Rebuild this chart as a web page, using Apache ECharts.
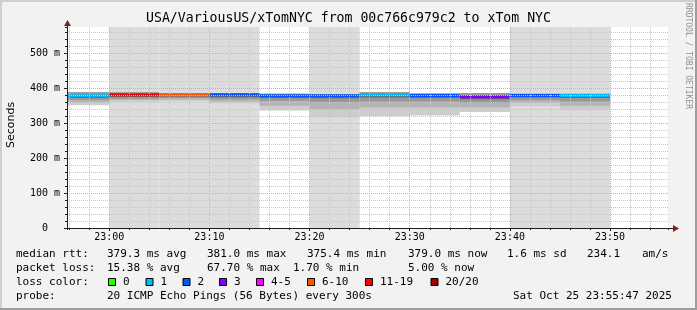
<!DOCTYPE html>
<html><head><meta charset="utf-8">
<script src="https://cdn.jsdelivr.net/npm/echarts@6/dist/echarts.min.js"></script>
<style>html,body{margin:0;padding:0;background:#f2f2f2;}#c{width:697px;height:310px;}</style>
</head><body><div id="c"></div>
<script>
// ---- data ----
const titleText = 'USA/VariousUS/xTomNYC from 00c766c979c2 to xTom NYC';
const windowStart = '22:55:47';
const windowEnd = '23:55:47';
const segStart = ['22:55','23:00','23:05','23:10','23:15','23:20','23:25','23:30','23:35','23:40','23:45'];
const stepMinutes = 5;
const medianRtt = [378, 381, 381, 381, 378, 378, 381, 379, 375.4, 379, 379];
const smokeTop  = [388, 388, 385, 386, 384, 383, 388, 385, 386, 384, 384];
const smokeLow0 = [372, 375, 376, 374, 372, 371, 373, 372, 368, 373, 372];
const smokeLow1 = [366, 370, 372, 368, 364, 360, 362, 362, 358, 366, 362];
const smokeLow2 = [360, 366, 367, 362, 350, 340, 345, 345, 345, 358, 350];
const smokeLow3 = [351, 361, 363, 357, 336, 317, 320, 322, 332, 349, 337];
const lossPings = [1, 13.5, 8, 2, 2, 2, 1, 2, 3, 2, 1];
const lossShade = [0, 1, 1, 1, 0, 1, 0, 0, 0, 1, 1];
const yMax = 575;
const lossLegend = ['0','1','2','3','4-5','6-10','11-19','20/20'];
const lossLegendMax = [0, 1, 2, 3, 5, 10, 19, 20];
const lossColors = ['#26ff00','#00b8ff','#0059ff','#7e00ff','#ff00ff','#ff5500','#ff0000','#a10000'];
const rttLabel = 'median rtt:';
const rttStats = ['379.3 ms avg','381.0 ms max','375.4 ms min','379.0 ms now','1.6 ms sd','234.1','am/s'];
const lossLabel = 'packet loss:';
const lossStats = ['15.38 % avg','67.70 % max','1.70 % min','5.00 % now'];
const colorLabel = 'loss color:';
const probeLabel = 'probe:';
const probeText = '20 ICMP Echo Pings (56 Bytes) every 300s';
const stampText = 'Sat Oct 25 23:55:47 2025';
const yAxisName = 'Seconds';
const watermark = 'RRDTOOL / TOBI OETIKER';

// ---- helpers ----
function toMin(s){ const p = s.split(':').map(Number); return p[0]*60 + p[1] + (p[2]||0)/60; }
function lossColor(n){ const c = Math.ceil(n); for (let i=0;i<lossLegendMax.length;i++){ if (c <= lossLegendMax[i]) return lossColors[i]; } return lossColors[lossColors.length-1]; }
const xMin = toMin(windowStart), xMax = toMin(windowEnd);
const rows = segStart.map((t,i)=>[toMin(t), toMin(t)+stepMinutes, medianRtt[i], smokeTop[i], smokeLow0[i], smokeLow1[i], smokeLow2[i], smokeLow3[i], lossPings[i], lossShade[i]]);

const MONO = "'DejaVu Sans Mono', monospace";
const minorGrid = {color:'#c6c6c6', width:1, type:[1,1]};
const majorGrid = {color:'#ef9f9f', width:1, type:[1,1]};

function renderItem(params, api){
  const cs = params.coordSys;
  const s = api.value(0), e = api.value(1);
  const x0 = Math.max(api.coord([s,0])[0], cs.x);
  const x1 = Math.min(api.coord([e,0])[0], cs.x + cs.width);
  const w = x1 - x0;
  if (w <= 0) return null;
  const Y = v => api.coord([s, v])[1];
  const ch = [];
  function band(lo, hi, color){
    const ya = Y(hi), yb = Y(lo);
    ch.push({type:'rect', shape:{x:x0, y:ya, width:w, height:yb-ya}, style:{fill:color}});
  }
  if (api.value(9)) ch.push({type:'rect', shape:{x:x0, y:cs.y, width:w, height:cs.height}, style:{fill:'#dcdcdc'}});
  band(api.value(7), api.value(3), '#cdcdcd');
  band(api.value(6), api.value(3), '#b3b3b3');
  band(api.value(5), api.value(3), '#979797');
  band(api.value(4), api.value(2), '#6a6a6a');
  const ym = Y(api.value(2));
  ch.push({type:'rect', shape:{x:x0, y:ym-1.5, width:w, height:3}, style:{fill:lossColor(api.value(8))}});
  return {type:'group', children:ch};
}

// ---- graphic (texts, frame) ----
const g = [];
const T = (x,y,text,opt) => g.push(Object.assign({type:'text', x, y, style:Object.assign({text, fill:'#000', font:'11px '+MONO, textVerticalAlign:'middle', textAlign:'left'}, (opt||{}).style||{})}, opt && opt.rotation!==undefined ? {rotation:opt.rotation} : {}, {z:20}));
// frame shading
g.push({type:'rect', shape:{x:0,y:0,width:697,height:2}, style:{fill:'#cfcfcf'}, z:1});
g.push({type:'rect', shape:{x:0,y:0,width:2,height:310}, style:{fill:'#cfcfcf'}, z:1});
g.push({type:'rect', shape:{x:0,y:308,width:697,height:2}, style:{fill:'#9e9e9e'}, z:1});
g.push({type:'rect', shape:{x:695,y:0,width:2,height:310}, style:{fill:'#9e9e9e'}, z:1});
// axis extensions and arrows
g.push({type:'line', shape:{x1:668, y1:228.5, x2:676, y2:228.5}, style:{stroke:'#1f1f1f', lineWidth:1}, z:20});
g.push({type:'line', shape:{x1:67.5, y1:27, x2:67.5, y2:22}, style:{stroke:'#1f1f1f', lineWidth:1}, z:20});
g.push({type:'polygon', shape:{points:[[673,225],[673,232],[679,228.5]]}, style:{fill:'#801f1f'}, z:21});
g.push({type:'polygon', shape:{points:[[64,26],[71,26],[67.5,20]]}, style:{fill:'#801f1f'}, z:21});
// title
T(348.5, 19, titleText, {style:{font:'13.2px '+MONO, textAlign:'center'}});
// y axis name
T(11, 125, yAxisName, {rotation:Math.PI/2, style:{font:"11px 'DejaVu Sans', sans-serif", textAlign:'center'}});
// watermark
T(688, 56, watermark, {rotation:-Math.PI/2, style:{font:'8px '+MONO, fill:'#909090', textAlign:'center'}});
// legend
const L1 = 254.5, L2 = 268.3, L3 = 282.3, L4 = 296;
T(16, L1, rttLabel);
[107, 207, 307, 408, 507, 587, 642].forEach((x,i)=>T(x, L1, rttStats[i]));
T(16, L2, lossLabel);
[107, 207, 293, 408].forEach((x,i)=>T(x, L2, lossStats[i]));
T(16, L3, colorLabel);
[108, 145.5, 182.5, 219, 256, 307, 365, 430.5].forEach((x,i)=>{
  g.push({type:'rect', shape:{x:x+0.5, y:278.5, width:7, height:7}, style:{fill:lossColors[i], stroke:'#000', lineWidth:1}, z:20});
  T(x+15, L3, lossLegend[i]);
});
T(16, L4, probeLabel);
T(107, L4, probeText);
T(513, L4, stampText);

const chart = echarts.init(document.getElementById('c'), null, {renderer:'canvas'});
chart.setOption({
  backgroundColor:'#f2f2f2',
  animation:false,
  grid:{left:67, top:27, width:601, height:201, show:true, backgroundColor:'#ffffff', borderWidth:0},
  xAxis:[
    {type:'value', min:xMin, max:xMax, minInterval:10, maxInterval:10, splitNumber:6, z:6,
     axisLine:{show:true, onZero:false, lineStyle:{color:'#1f1f1f'}},
     axisTick:{show:true, length:3, lineStyle:{color:'#1f1f1f'}},
     axisLabel:{showMinLabel:false, showMaxLabel:false, margin:4, color:'#000', fontFamily:MONO, fontSize:10,
       formatter:v=>{const h=Math.floor(v/60), m=Math.round(v-h*60); return String(h).padStart(2,'0')+':'+String(m).padStart(2,'0');}},
     splitLine:{show:true, showMinLine:false, showMaxLine:false, lineStyle:majorGrid}},
    {type:'value', min:xMin, max:xMax, minInterval:2, maxInterval:2, splitNumber:30, z:5, position:'bottom',
     axisLine:{show:false}, axisTick:{show:true, length:2, lineStyle:{color:'#1f1f1f'}}, axisLabel:{show:false},
     splitLine:{show:true, showMinLine:false, showMaxLine:false, lineStyle:minorGrid}}
  ],
  yAxis:[
    {type:'value', min:0, max:yMax, interval:100, z:6,
     axisLine:{show:true, onZero:false, lineStyle:{color:'#1f1f1f'}},
     axisTick:{show:true, length:3, lineStyle:{color:'#1f1f1f'}},
     axisLabel:{showMaxLabel:false, margin:7, color:'#000', fontFamily:MONO, fontSize:10,
       formatter:v=> v===0 ? '0  ' : (v + ' m')},
     splitLine:{show:true, showMinLine:false, showMaxLine:false, lineStyle:majorGrid}},
    {type:'value', min:0, max:yMax, interval:20, z:5, position:'left', offset:0,
     axisLine:{show:false}, axisTick:{show:true, length:2, lineStyle:{color:'#1f1f1f'}}, axisLabel:{show:false},
     splitLine:{show:true, showMinLine:false, showMaxLine:false, lineStyle:minorGrid}}
  ],
  series:[{type:'custom', xAxisIndex:0, yAxisIndex:0, clip:true, z:2, renderItem, data:rows,
    encode:{x:[0,1], y:[2,3,4,5,6,7]}, silent:true}],
  graphic:{elements:g}
});
</script></body></html>
